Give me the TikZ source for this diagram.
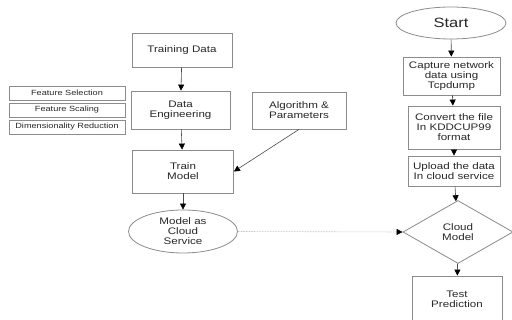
\documentclass[tikz,border=0pt]{standalone}
\usepackage{fontspec}
\setmainfont{Liberation Sans}[FakeStretch=1.22]
\usepackage{tikz}
\usetikzlibrary{arrows.meta,shapes.geometric}

\definecolor{boxline}{RGB}{140,140,140}
\definecolor{txt}{RGB}{40,40,40}

\begin{document}
\begin{tikzpicture}[x=1pt, y=-1pt,
	box/.style={draw=boxline, thick, rectangle, text=txt, align=center, inner sep=0pt,
		font=\fontsize{9.5}{10}\selectfont},
	sidebox/.style={draw=boxline, thick, rectangle, text=txt, inner sep=0pt,
		minimum width=116pt, minimum height=14pt, font=\fontsize{7.5}{8}\selectfont},
	flow/.style={draw=black!70, semithick, -{Triangle[length=6pt, width=6pt, color=black]}}]

	% Frame
	\clip (0,0) rectangle (512,320);
	\fill[white] (0,0) rectangle (512,320);

	% Left column: training
	\node[box, minimum width=100pt, minimum height=34pt] (training) at (182,50) {Training Data};
	\node[box, minimum width=99pt, minimum height=38pt] (dataeng) at (180.5,110) {Data\\Engineering};
	\node[box, minimum width=101pt, minimum height=43pt] (train) at (183,171.5) {Train\\Model};
	\node[box, ellipse, minimum width=109pt, minimum height=43pt] (service) at (183,231.5) {Model as\\Cloud\\Service};

	% Data engineering steps
	\node[sidebox] (featsel) at (67,93) {Feature Selection};
	\node[sidebox] (featscale) at (67,110) {Feature Scaling};
	\node[sidebox] (dimred) at (67,127) {Dimensionality Reduction};

	\node[box, minimum width=94pt, minimum height=37pt] (algo) at (299,110.5) {Algorithm \&\\Parameters};

	% Right column: testing
	\node[box, ellipse, minimum width=110pt, minimum height=32pt,
		font=\fontsize{13.5}{14}\selectfont] (start) at (451,23) {Start};
	\node[box, minimum width=97pt, minimum height=38pt] (capture) at (451.5,76) {Capture network\\data using\\Tcpdump};
	\node[box, minimum width=92pt, minimum height=43pt] (convert) at (454,127.5) {Convert the file\\In KDDCUP99\\format};
	\node[box, minimum width=92pt, minimum height=30pt] (upload) at (454,171) {Upload the data\\In cloud service};
	\node[box, diamond, aspect=1.75, minimum width=110pt, minimum height=63pt] (cloud) at (458,232) {Cloud\\Model};
	\node[box, minimum width=90pt, minimum height=46pt] (test) at (457,299) {Test\\Prediction};

	% Arrows
	\draw[flow] (training) -- (dataeng);
	\draw[flow] (dataeng) -- (train);
	\draw[flow] (algo.south) -- (train.east);
	\draw[flow] (train) -- (service);

	\draw[flow] (start) -- (capture);
	\draw[flow] (capture) -- (convert);
	\draw[flow] (convert) -- (upload);
	\draw[flow] (upload) -- (cloud);
	\draw[flow] (cloud) -- (test);

	\draw[flow, draw=black!35, densely dotted] (service.east) -- (cloud.west);

\end{tikzpicture}
\end{document}
